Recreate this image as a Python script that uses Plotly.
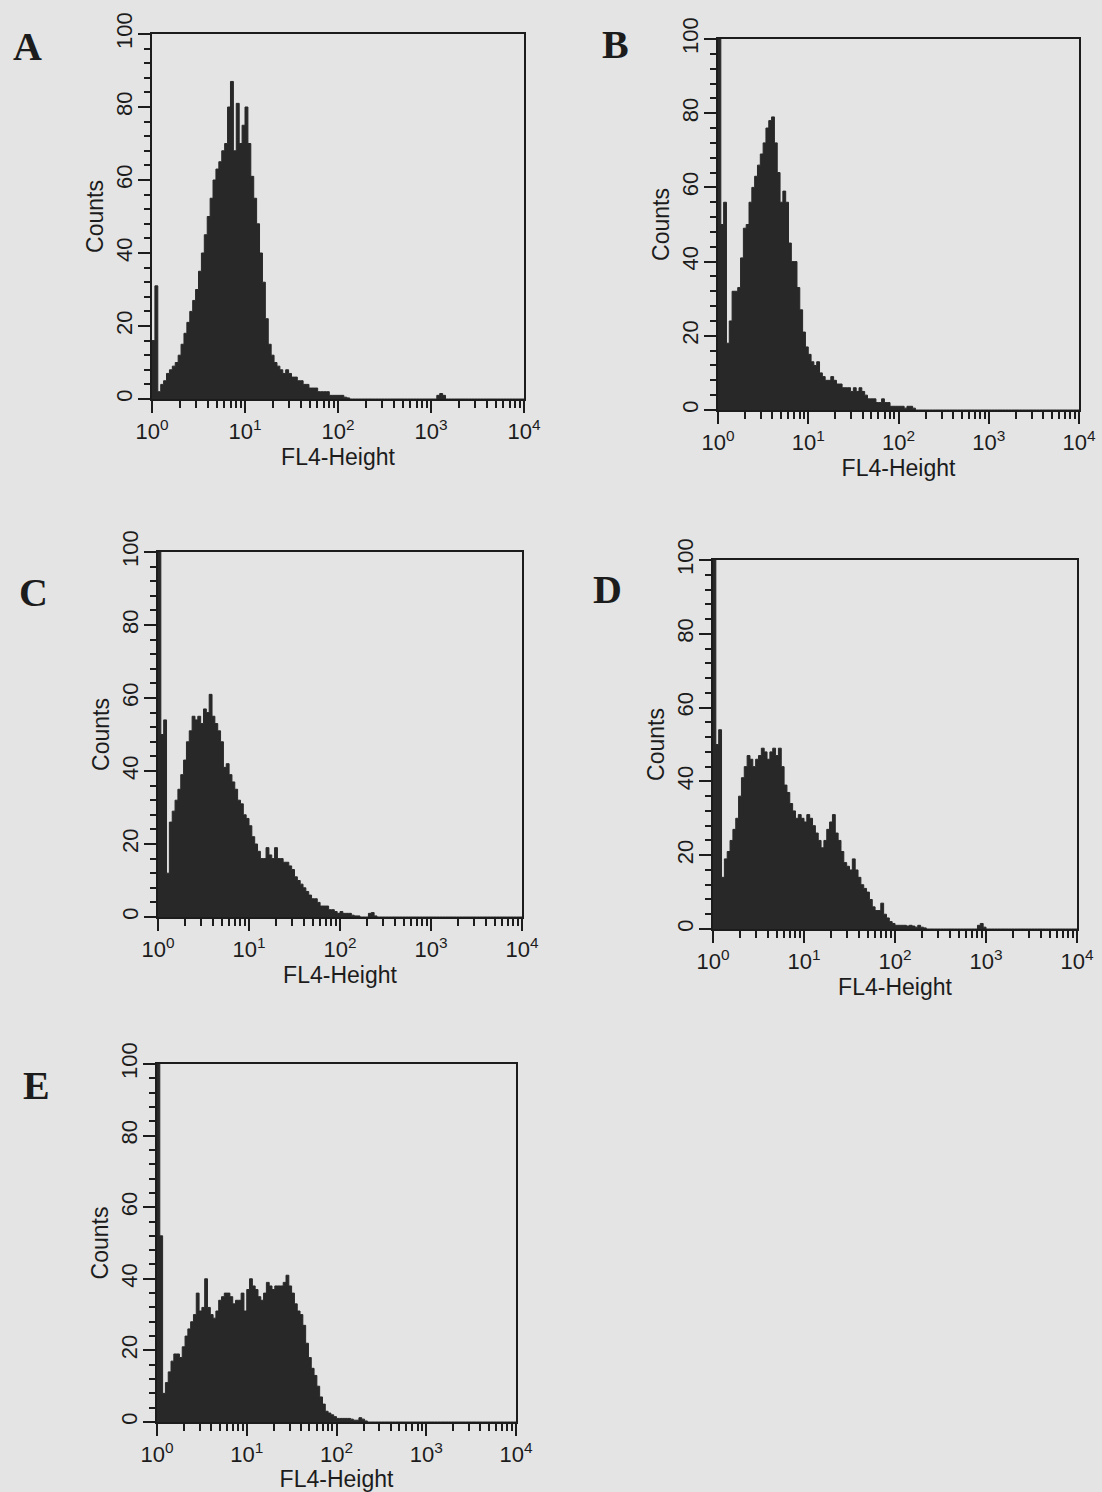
import numpy as np
import plotly.graph_objects as go

FIG_W, FIG_H = 1102, 1492
CHANNELS_PER_DECADE = 32  # histogram channels per decade of FL4-Height

panel_names = ["A", "B", "C", "D", "E"]
x_axis_title = "FL4-Height"
y_axis_title = "Counts"
y_tick_values = [0, 20, 40, 60, 80, 100]
x_tick_values = [1, 10, 100, 1000, 10000]
x_tick_labels = ["10<sup>0</sup>", "10<sup>1</sup>", "10<sup>2</sup>",
                 "10<sup>3</sup>", "10<sup>4</sup>"]

# counts per channel (channel i covers 10^(i/32) .. 10^((i+1)/32))
counts_A = [16, 31, 2, 4, 5, 7, 8, 9, 10, 12,
            15, 18, 21, 24, 27, 30, 35, 40, 45, 50,
            55, 60, 63, 65, 68, 70, 80, 87, 68, 81,
            70, 75, 80, 70, 61, 55, 48, 40, 32, 22,
            15, 12, 10, 9, 8, 7, 8, 7, 6, 6,
            5, 5, 4, 4, 3, 3, 3, 2, 2, 2,
            2, 1, 1, 1, 1, 1, 0.5, 0.3, 0, 0,
            0, 0, 0, 0, 0, 0, 0, 0, 0, 0,
            0, 0, 0, 0, 0, 0, 0, 0, 0, 0,
            0, 0, 0, 0, 0, 0, 0, 0, 1, 1.5,
            1, 0, 0, 0, 0, 0, 0, 0, 0, 0,
            0, 0, 0, 0, 0, 0, 0, 0, 0, 0,
            0, 0, 0, 0, 0, 0, 0, 0]

counts_B = [110, 50, 56, 18, 24, 32, 32, 33, 41, 49,
            50, 56, 60, 63, 66, 69, 72, 76, 78, 79,
            72, 64, 56, 59, 56, 45, 40, 40, 33, 27,
            21, 17, 15, 13, 12, 13, 10, 9, 8, 8,
            9, 8, 7, 7, 6, 6, 6, 5, 6, 5,
            6, 5, 4, 3, 3, 3, 2, 2, 3, 2,
            2, 1, 1, 1, 1, 1, 0.5, 1, 1, 0.5,
            0, 0, 0, 0, 0, 0, 0, 0, 0, 0,
            0, 0, 0, 0, 0, 0, 0, 0, 0, 0,
            0, 0, 0, 0, 0, 0, 0, 0, 0, 0,
            0, 0, 0, 0, 0, 0, 0, 0, 0, 0,
            0, 0, 0, 0, 0, 0, 0, 0, 0, 0,
            0, 0, 0, 0, 0, 0, 0, 0]

counts_C = [110, 50, 54, 12, 26, 29, 32, 35, 39, 43,
            48, 51, 55, 54, 55, 53, 57, 56, 61, 55,
            53, 51, 48, 41, 42, 39, 37, 35, 32, 31,
            28, 27, 25, 22, 20, 18, 16, 16, 19, 17,
            16, 19, 16, 16, 15, 15, 14, 13, 11, 10,
            9, 8, 7, 6, 5, 5, 4, 3, 3, 3,
            2, 2, 1.5, 1, 1.5, 1, 1, 1, 0.5, 0.3,
            0.3, 0, 0, 0, 1, 1.2, 0.3, 0, 0, 0,
            0, 0, 0, 0, 0, 0, 0, 0, 0, 0,
            0, 0, 0, 0, 0, 0, 0, 0, 0, 0,
            0, 0, 0, 0, 0, 0, 0, 0, 0, 0,
            0, 0, 0, 0, 0, 0, 0, 0, 0, 0,
            0, 0, 0, 0, 0, 0, 0, 0]

counts_D = [110, 50, 54, 14, 19, 21, 24, 27, 30, 36,
            41, 44, 47, 46, 44, 46, 47, 49, 48, 46,
            48, 49, 47, 49, 44, 39, 37, 34, 32, 30,
            31, 30, 29, 31, 30, 28, 26, 24, 22, 24,
            27, 29, 31, 26, 24, 21, 18, 17, 16, 19,
            16, 14, 12, 11, 10, 8, 6, 5, 5, 7,
            4, 3, 2, 1.5, 1, 1, 1, 1, 0.8, 1,
            0.8, 0.5, 1, 0.5, 0.3, 0, 0, 0, 0, 0,
            0, 0, 0, 0, 0, 0, 0, 0, 0, 0,
            0, 0, 0, 1, 1.5, 0.5, 0, 0, 0, 0,
            0, 0, 0, 0, 0, 0, 0, 0, 0, 0,
            0, 0, 0, 0, 0, 0, 0, 0, 0, 0,
            0, 0, 0, 0, 0, 0, 0, 0]

counts_E = [110, 52, 8, 11, 14, 17, 19, 19, 18, 21,
            24, 26, 28, 30, 36, 31, 32, 40, 32, 30,
            29, 31, 34, 35, 36, 36, 35, 33, 34, 34,
            36, 31, 37, 40, 38, 37, 35, 34, 36, 39,
            38, 37, 38, 38, 38, 39, 41, 38, 36, 33,
            31, 30, 27, 22, 18, 15, 13, 10, 7, 5,
            3, 2.5, 2, 1.5, 1, 1, 1, 1, 1, 0.8,
            0.5, 0.5, 1.2, 0.8, 0.3, 0, 0, 0, 0, 0,
            0, 0, 0, 0, 0, 0, 0, 0, 0, 0,
            0, 0, 0, 0, 0, 0, 0, 0, 0, 0,
            0, 0, 0, 0, 0, 0, 0, 0, 0, 0,
            0, 0, 0, 0, 0, 0, 0, 0, 0, 0,
            0, 0, 0, 0, 0, 0, 0, 0]

series = {"A": counts_A, "B": counts_B, "C": counts_C, "D": counts_D, "E": counts_E}

# plot-area boxes in page pixels: left, right, top, bottom
boxes = {
    "A": (152, 524, 34, 399),
    "B": (718, 1079, 39, 410),
    "C": (158, 522, 552, 917),
    "D": (713, 1077, 560, 929),
    "E": (157, 516, 1064, 1422),
}
# panel letter centres in page pixels
letter_pos = {"A": (27, 46), "B": (615, 44), "C": (33, 592), "D": (607, 589), "E": (36, 1085)}

BG = "rgb(228,228,228)"
INK = "rgb(28,28,28)"
FILL = "rgb(40,40,40)"
SANS = "Liberation Sans, Arial, Helvetica, sans-serif"
SERIF = "Liberation Serif, Times New Roman, serif"

fig = go.Figure()
annotations = []
for k, name in enumerate(panel_names):
    counts = series[name]
    n = len(counts)
    edges = 10 ** (np.arange(n + 1) / CHANNELS_PER_DECADE)
    yvals = list(counts) + [0]
    sfx = "" if k == 0 else str(k + 1)
    fig.add_trace(go.Scatter(
        x=edges, y=yvals, mode="lines",
        line=dict(shape="hv", color=FILL, width=1),
        fill="tozeroy", fillcolor=FILL,
        xaxis="x" + sfx, yaxis="y" + sfx,
        hoverinfo="skip", showlegend=False,
    ))
    l, r, t, b = boxes[name]
    fig.layout["xaxis" + sfx] = dict(
        type="log", range=[0, 4], domain=[l / FIG_W, r / FIG_W], anchor="y" + sfx,
        automargin=False,
        tickmode="array", tickvals=x_tick_values, ticktext=x_tick_labels,
        ticks="outside", ticklen=12, tickwidth=2, tickcolor=INK,
        showline=True, linecolor=INK, linewidth=2, mirror=True,
        showgrid=False, zeroline=False,
        minor=dict(ticks="outside", ticklen=7, tickwidth=1.5, tickcolor=INK,
                   dtick="D1", showgrid=False),
        tickfont=dict(family=SANS, size=22, color=INK),
        title=dict(text=x_axis_title, font=dict(family=SANS, size=23, color=INK), standoff=2),
        fixedrange=True,
    )
    fig.layout["yaxis" + sfx] = dict(
        range=[0, 100], domain=[1 - b / FIG_H, 1 - t / FIG_H], anchor="x" + sfx,
        automargin=False,
        tickmode="array", tickvals=y_tick_values, tickangle=-90,
        ticks="outside", ticklen=12, tickwidth=2, tickcolor=INK,
        ticklabelstandoff=-3,
        showline=True, linecolor=INK, linewidth=2, mirror=True,
        showgrid=False, zeroline=False,
        minor=dict(ticks="outside", ticklen=6, tickwidth=1.5, tickcolor=INK,
                   dtick=4, showgrid=False),
        tickfont=dict(family=SANS, size=22, color=INK),
        title=dict(text=y_axis_title, font=dict(family=SANS, size=23, color=INK), standoff=2),
        fixedrange=True,
    )
    lx, ly = letter_pos[name]
    annotations.append(dict(
        text="<b>%s</b>" % name, xref="paper", yref="paper",
        x=lx / FIG_W, y=1 - ly / FIG_H, xanchor="center", yanchor="middle",
        showarrow=False, font=dict(family=SERIF, size=40, color=INK),
    ))

fig.update_layout(
    width=FIG_W, height=FIG_H,
    margin=dict(l=0, r=0, t=0, b=0),
    paper_bgcolor=BG, plot_bgcolor=BG,
    annotations=annotations,
    showlegend=False,
)

fig.write_html("out.html")
